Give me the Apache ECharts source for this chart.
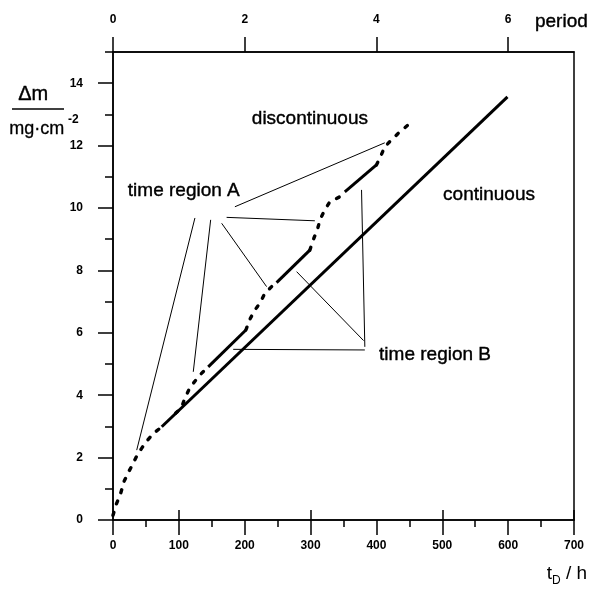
<!DOCTYPE html>
<html>
<head>
<meta charset="utf-8">
<script src="https://cdn.jsdelivr.net/npm/echarts@6/dist/echarts.min.js"></script>
<style>
  html, body { margin: 0; padding: 0; background: #fff; }
  #chart { width: 590px; height: 589px; }
</style>
</head>
<body>
<div id="chart"></div>
<script>
// axis ticks
const hourTicks = [0, 100, 200, 300, 400, 500, 600, 700];
const periodMajor = [0, 2, 4, 6];
const periodMinor = [1, 3, 5, 7];
const massMajor = [0, 2, 4, 6, 8, 10, 12, 14];
const massMinor = [1, 3, 5, 7, 9, 11, 13, 15];

// early common part (dotted), [t / h, dm / mg cm-2]
const earlyPart = [[0, 0.15], [4.5, 0.48], [11.7, 0.86], [17.2, 1.26], [24.7, 1.58], [28.4, 1.73],
  [36, 2.05], [47.5, 2.43], [60.2, 2.75], [74, 2.99]];

// continuous exposure
const continuousLine = [[74, 2.99], [599, 13.56]];

// discontinuous exposure: time region A (dotted) / time region B (solid)
const regionA1 = [[95, 3.42], [104, 3.6], [109, 3.9], [117, 4.25], [132, 4.65], [144.6, 4.91]];
const regionB1 = [[144.6, 4.91], [201.8, 6.09]];
const regionA2 = [[201.8, 6.09], [208, 6.44], [215.5, 6.73], [223, 6.95], [230.7, 7.27], [243.3, 7.53], [248.4, 7.61]];
const regionB2 = [[248.4, 7.61], [298.9, 8.65]];
const regionA3 = [[298.9, 8.65], [305, 9.03], [310, 9.29], [315.2, 9.67], [321.7, 9.94], [329.3, 10.2], [344.5, 10.36], [352, 10.52]];
const regionB3 = [[352, 10.52], [400, 11.38]];
const regionA4 = [[400, 11.38], [405, 11.59], [412.7, 11.96], [420.3, 12.13], [432.9, 12.39], [448, 12.66]];

// leader lines for the annotations
const leadersA = [
  [[124.4, 9.68], [36, 2.24]],
  [[148.3, 9.62], [121.9, 4.75]],
  [[165, 9.51], [233.2, 7.48]],
  [[172.5, 9.7], [306.5, 9.59]],
  [[185.1, 10.04], [412.7, 12.09]]
];
const leadersB = [
  [[382.4, 5.55], [377.4, 10.58]],
  [[380.5, 5.75], [278.8, 7.96]],
  [[182.5, 5.47], [382.4, 5.45]]
];

const noteTexts = ['discontinuous', 'continuous', 'time region A', 'time region B'];
const notePos = [[299, 12.87], [571, 10.41], [107.5, 10.55], [489, 5.29]];

const FONT = 'Liberation Sans, Arial, Helvetica, sans-serif';
const axisStroke = { color: '#000', width: 1.5 };

const chart = echarts.init(document.getElementById('chart'));

function thickSeries(data, dotted) {
  return {
    type: 'line',
    data: data,
    symbol: 'none',
    silent: true,
    z: 3,
    lineStyle: dotted
      ? { color: '#000', width: 3.4, type: [3, 9], cap: 'round' }
      : { color: '#000', width: 3 }
  };
}

function leaderSeries(data) {
  return {
    type: 'line',
    data: data,
    symbol: 'none',
    silent: true,
    z: 2,
    lineStyle: { color: '#000', width: 1 }
  };
}

const series = [
  thickSeries(earlyPart, true),
  thickSeries(continuousLine, false),
  thickSeries(regionA1, true),
  thickSeries(regionB1, false),
  thickSeries(regionA2, true),
  thickSeries(regionB2, false),
  thickSeries(regionA3, true),
  thickSeries(regionB3, false),
  thickSeries(regionA4, true),
  ...leadersA.map(leaderSeries),
  ...leadersB.map(leaderSeries),
  {
    type: 'scatter',
    symbolSize: 1,
    silent: true,
    itemStyle: { color: 'rgba(0,0,0,0)', opacity: 1 },
    data: notePos.map((p, i) => ({ value: p, name: noteTexts[i] })),
    label: {
      show: true,
      position: 'inside',
      formatter: p => p.name,
      color: '#000',
      opacity: 1,
      textBorderColor: '#000',
      textBorderWidth: 0.4,
      fontSize: 19,
      fontFamily: FONT
    }
  }
];

const option = {
  backgroundColor: '#fff',
  animation: false,
  grid: { left: 113, right: 16, top: 52, bottom: 69, show: true, borderColor: '#000', borderWidth: 1.5 },
  xAxis: [
    {
      type: 'value', position: 'bottom', min: 0, max: 700, interval: 100,
      axisLine: { show: true, onZero: false, lineStyle: axisStroke },
      axisTick: { show: true, length: 15, customValues: hourTicks, lineStyle: axisStroke },
      minorTick: { show: true, splitNumber: 2, length: 7, lineStyle: axisStroke },
      axisLabel: { customValues: hourTicks, margin: 20, color: '#000', fontSize: 12, fontWeight: 'bold', fontFamily: FONT },
      splitLine: { show: false }
    },
    {
      type: 'value', position: 'top', min: 0, max: 7,
      axisLine: { show: true, onZero: false, lineStyle: axisStroke },
      axisTick: { show: true, length: 15, customValues: periodMajor, lineStyle: axisStroke },
      axisLabel: { customValues: periodMajor, margin: 26, color: '#000', fontSize: 12, fontWeight: 'bold', fontFamily: FONT },
      splitLine: { show: false }
    },
    {
      type: 'value', position: 'top', min: 0, max: 7,
      axisLine: { show: false },
      axisTick: { show: true, length: 10, customValues: periodMinor, lineStyle: axisStroke },
      axisLabel: { show: false },
      splitLine: { show: false }
    }
  ],
  yAxis: [
    {
      type: 'value', position: 'left', min: 0, max: 15,
      axisLine: { show: true, onZero: false, lineStyle: axisStroke },
      axisTick: { show: true, length: 15, customValues: massMajor, lineStyle: axisStroke },
      axisLabel: { customValues: massMajor, margin: 30, color: '#000', fontSize: 12, fontWeight: 'bold', fontFamily: FONT },
      splitLine: { show: false }
    },
    {
      type: 'value', position: 'left', min: 0, max: 15,
      axisLine: { show: false },
      axisTick: { show: true, length: 8, customValues: massMinor, lineStyle: axisStroke },
      axisLabel: { show: false },
      splitLine: { show: false }
    }
  ],
  graphic: [
    { type: 'text', left: 18, top: 84, style: { text: 'Δm', font: '20px ' + FONT, fill: '#000', stroke: '#000', lineWidth: 0.4 } },
    { type: 'line', shape: { x1: 12, y1: 109, x2: 64, y2: 109 }, style: { stroke: '#000', lineWidth: 1.5 } },
    { type: 'text', left: 9, top: 120, style: { text: 'mg·cm', font: '18px ' + FONT, fill: '#000', stroke: '#000', lineWidth: 0.3 } },
    { type: 'text', left: 68, top: 114, style: { text: '-2', font: 'bold 12px ' + FONT, fill: '#000' } },
    { type: 'text', right: 2, top: 12, style: { text: 'period', font: '19px ' + FONT, fill: '#000', stroke: '#000', lineWidth: 0.4 } },
    {
      type: 'text', right: 3, top: 564,
      style: {
        text: '{t|t}{s|D}{t| / h}',
        fill: '#000',
        rich: {
          t: { fontSize: 19, fontFamily: FONT, fill: '#000', verticalAlign: 'bottom' },
          s: { fontSize: 12, fontFamily: FONT, fill: '#000', verticalAlign: 'bottom', padding: [0, 0, -4, 0] }
        }
      }
    }
  ],
  series: series
};

chart.setOption(option);
</script>
</body>
</html>
